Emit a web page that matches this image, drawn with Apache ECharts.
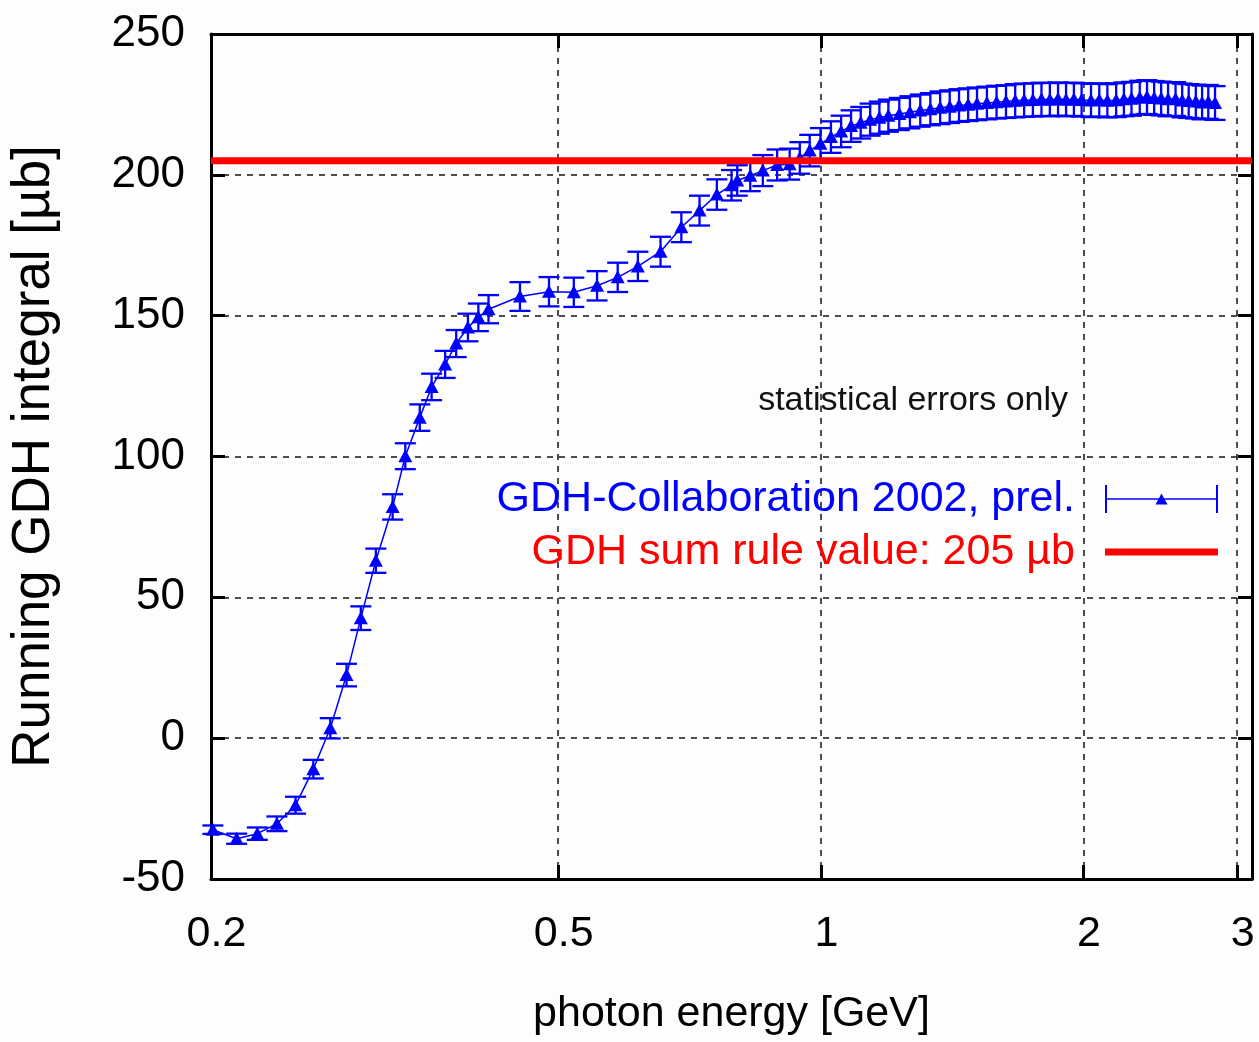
<!DOCTYPE html>
<html>
<head>
<meta charset="utf-8">
<title>Running GDH integral</title>
<script src="https://cdn.jsdelivr.net/npm/echarts@6/dist/echarts.min.js"></script>
<style>
  html, body { margin: 0; padding: 0; background: #fdfdfd; }
  #chart { width: 1259px; height: 1042px; }
</style>
</head>
<body>
<div id="chart"></div>
<script>
// Photon energy of each bin [GeV]
const energy = [
  0.201, 0.214, 0.226, 0.238, 0.250, 0.262, 0.274, 0.286, 0.297, 0.309,
  0.323, 0.334, 0.347, 0.358, 0.371, 0.382, 0.394, 0.405, 0.416, 0.452,
  0.488, 0.521, 0.554, 0.585, 0.617, 0.655, 0.692, 0.726, 0.760, 0.790,
  0.802, 0.830, 0.858, 0.891, 0.921, 0.946, 0.971, 0.999, 1.027, 1.055,
  1.083, 1.111, 1.139, 1.167, 1.195, 1.230, 1.265, 1.300, 1.335, 1.370,
  1.405, 1.440, 1.475, 1.510, 1.550, 1.590, 1.630, 1.670, 1.710, 1.750,
  1.790, 1.830, 1.870, 1.910, 1.950, 1.990, 2.040, 2.085, 2.130, 2.180,
  2.225, 2.270, 2.320, 2.365, 2.410, 2.455, 2.500, 2.550, 2.595, 2.640,
  2.690, 2.735, 2.780, 2.830
];

// Running GDH integral [µb]
const runningIntegral = [
  -32.5, -35.7, -33.9, -30.4, -23.8, -11.0, 3.5, 22.4, 42.6, 63.0,
  82.1, 100.1, 113.8, 124.7, 132.7, 140.1, 145.8, 149.4, 152.3, 156.8,
  158.5, 158.3, 160.6, 163.6, 167.5, 172.7, 181.4, 187.3, 193.0, 196.3,
  198.0, 199.7, 201.5, 203.5, 203.8, 206.0, 208.6, 211.0, 213.4, 215.4,
  217.3, 218.5, 219.6, 220.3, 221.0, 221.6, 222.2, 222.8, 223.3, 223.8,
  224.2, 224.6, 224.9, 225.2, 225.5, 225.8, 226.0, 226.3, 226.5, 226.6,
  226.8, 226.7, 226.9, 226.7, 226.8, 226.6, 226.4, 226.6, 226.3, 226.5,
  226.8, 227.0, 227.4, 227.6, 227.3, 227.1, 226.8, 226.9, 226.4, 226.2,
  226.0, 225.7, 225.9, 225.5
];

// Statistical error of each point [µb]
const statError = [
  1.5, 1.8, 2.2, 2.6, 3.0, 3.3, 3.6, 4.0, 4.2, 4.3,
  4.5, 4.6, 4.7, 4.7, 4.8, 4.8, 4.9, 4.9, 5.0, 5.1,
  5.2, 5.2, 5.2, 5.2, 5.2, 5.3, 5.3, 5.3, 5.4, 5.4,
  5.4, 5.5, 5.5, 5.5, 5.5, 5.6, 5.6, 5.6, 5.6, 5.6,
  5.6, 5.6, 5.7, 5.7, 5.7, 5.7, 5.7, 5.7, 5.7, 5.8,
  5.8, 5.8, 5.8, 5.8, 5.8, 5.8, 5.8, 5.9, 5.9, 5.9,
  5.9, 5.9, 5.9, 5.9, 5.9, 5.9, 5.9, 5.9, 5.9, 6.0,
  6.0, 6.0, 6.0, 6.0, 6.0, 6.0, 6.0, 6.0, 6.0, 6.0,
  6.0, 6.0, 6.0, 6.0
];

// GDH sum rule prediction [µb]
const sumRuleValue = 205;

// Axis ticks
const energyTicks = [0.2, 0.5, 1, 2, 3];
const energyRange = [0.2, 3.12];
const integralRange = [-50, 250];
const integralStep = 50;

const dataName = 'GDH-Collaboration 2002, prel.';
const ruleName = 'GDH sum rule value: 205 µb';

const BLUE = '#0000ff';
const RED = '#ff0000';
const FONT = 'Liberation Sans, Arial, sans-serif';
const CAP_HALF = 10.5;

const points = energy.map((e, i) => [e, runningIntegral[i], statError[i]]);
const line = energy.map((e, i) => [e, runningIntegral[i]]);

// legend icon: horizontal error bar with a triangle in the middle
const errIcon = 'path://M0 0h2v28h-2z M111 0h2v28h-2z M0 13.2h113v1.6h-113z M50.5 19.5L56.5 8.5L62.5 19.5z';

const fmtEnergy = v => String(+Number(v).toPrecision(3));

const chart = echarts.init(document.getElementById('chart'), null, { renderer: 'canvas' });

const xBase = {
  type: 'log',
  logBase: 10,
  min: energyRange[0],
  max: energyRange[1],
  axisLine: { show: true, onZero: false, lineStyle: { color: '#000', width: 3 } },
  axisTick: { show: true, inside: true, length: 14, lineStyle: { color: '#000', width: 3 }, customValues: energyTicks },
  minorTick: { show: false },
  minorSplitLine: { show: false }
};

const yBase = {
  type: 'value',
  min: integralRange[0],
  max: integralRange[1],
  interval: integralStep,
  axisLine: { show: true, onZero: false, lineStyle: { color: '#000', width: 3 } },
  axisTick: { show: true, inside: true, length: 14, lineStyle: { color: '#000', width: 3 } }
};

chart.setOption({
  backgroundColor: '#fdfdfd',
  animation: false,
  grid: { left: 210, right: 7, top: 34, bottom: 163, containLabel: false },
  xAxis: [
    Object.assign({}, xBase, {
      position: 'bottom',
      name: 'photon energy [GeV]',
      nameLocation: 'middle',
      nameGap: 114,
      nameTextStyle: { fontFamily: FONT, fontSize: 43, color: '#000' },
      axisLabel: {
        show: true, customValues: energyTicks, margin: 34,
        fontFamily: FONT, fontSize: 43, color: '#000',
        padding: [0, 0, 0, 11],
        formatter: fmtEnergy, showMinLabel: true, showMaxLabel: true
      },
      splitLine: { show: true, lineStyle: { color: '#222', width: 1.6, type: [6, 6] } }
    }),
    Object.assign({}, xBase, {
      position: 'top',
      axisLabel: { show: false },
      splitLine: { show: false }
    })
  ],
  yAxis: [
    Object.assign({}, yBase, {
      position: 'left',
      name: 'Running GDH integral [µb]',
      nameLocation: 'middle',
      nameGap: 150,
      nameTextStyle: { fontFamily: FONT, fontSize: 53, color: '#000' },
      axisLabel: { margin: 26, fontFamily: FONT, fontSize: 44, color: '#000' },
      splitLine: { show: true, lineStyle: { color: '#222', width: 1.6, type: [6, 6] } }
    }),
    Object.assign({}, yBase, {
      position: 'right',
      axisLabel: { show: false },
      splitLine: { show: false }
    })
  ],
  legend: [
    {
      selectedMode: false,
      orient: 'vertical',
      align: 'right',
      right: 36,
      top: 469,
      itemWidth: 113,
      itemHeight: 28,
      data: [{ name: dataName, icon: errIcon, itemStyle: { color: BLUE } }],
      textStyle: { fontFamily: FONT, fontSize: 43, color: BLUE, lineHeight: 50, padding: [0, 25, 0, 0] }
    },
    {
      selectedMode: false,
      orient: 'vertical',
      align: 'right',
      right: 36,
      top: 522,
      itemWidth: 113,
      itemHeight: 7,
      data: [{ name: ruleName, icon: 'rect', itemStyle: { color: RED } }],
      textStyle: { fontFamily: FONT, fontSize: 43, color: RED, lineHeight: 50, padding: [0, 25, 0, 0] }
    }
  ],
  graphic: [
    {
      type: 'text',
      x: 1068,
      y: 401,
      style: {
        text: 'statistical errors only',
        fontFamily: FONT,
        fontSize: 34,
        fill: '#111',
        align: 'right',
        verticalAlign: 'middle'
      }
    }
  ],
  series: [
    {
      name: dataName,
      type: 'line',
      data: line,
      showSymbol: false,
      symbol: 'none',
      lineStyle: { color: BLUE, width: 1.5 },
      itemStyle: { color: BLUE },
      z: 2,
      silent: true
    },
    {
      name: dataName,
      type: 'custom',
      data: points,
      z: 3,
      clip: false,
      silent: true,
      itemStyle: { color: BLUE },
      renderItem: function (params, api) {
        const e = api.value(0), v = api.value(1), err = api.value(2);
        const p = api.coord([e, v]);
        const hi = api.coord([e, v + err]);
        const lo = api.coord([e, v - err]);
        const st = { stroke: BLUE, lineWidth: 2.3, fill: null };
        return {
          type: 'group',
          children: [
            { type: 'line', shape: { x1: p[0], y1: hi[1], x2: p[0], y2: lo[1] }, style: st },
            { type: 'line', shape: { x1: p[0] - CAP_HALF, y1: hi[1], x2: p[0] + CAP_HALF, y2: hi[1] }, style: st },
            { type: 'line', shape: { x1: p[0] - CAP_HALF, y1: lo[1], x2: p[0] + CAP_HALF, y2: lo[1] }, style: st },
            { type: 'polygon', shape: { points: [[p[0] - 7, p[1] + 6], [p[0], p[1] - 7], [p[0] + 7, p[1] + 6]] }, style: { fill: BLUE } }
          ]
        };
      }
    },
    {
      name: ruleName,
      type: 'line',
      data: [[energyRange[0], sumRuleValue], [energyRange[1], sumRuleValue]],
      showSymbol: false,
      symbol: 'none',
      lineStyle: { color: RED, width: 7 },
      itemStyle: { color: RED },
      z: 5,
      silent: true
    }
  ]
});
</script>
</body>
</html>
